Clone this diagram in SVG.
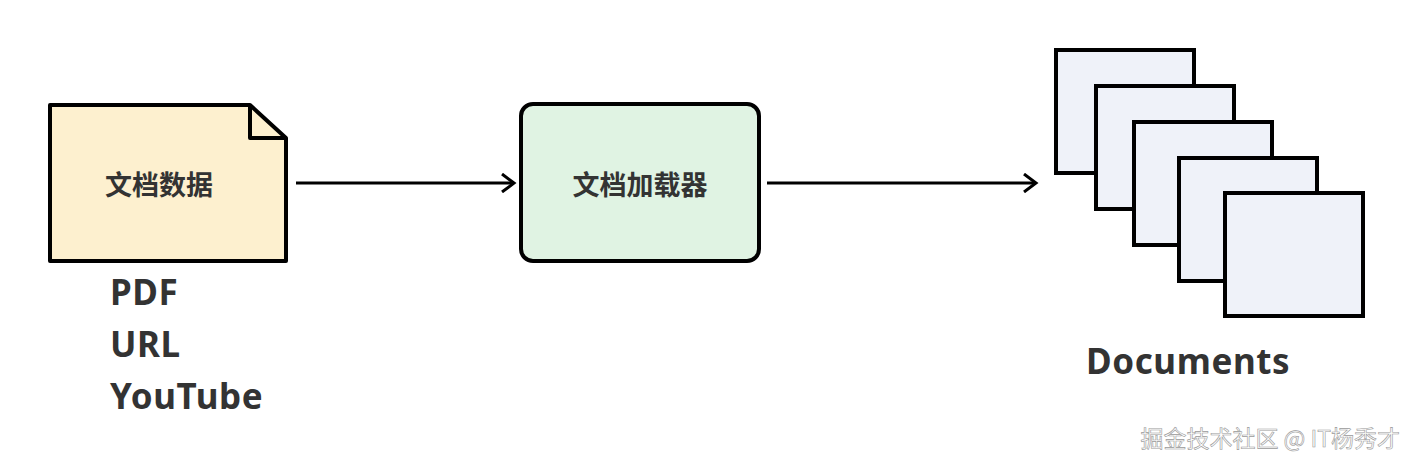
<svg xmlns="http://www.w3.org/2000/svg" width="1414" height="468" viewBox="0 0 1414 468">
<style>
.t{font-family:"Noto Sans CJK SC","Noto Sans",sans-serif;font-weight:bold;fill:#333}
.e{font-family:"Noto Sans",sans-serif;font-weight:bold;fill:#333;font-size:35px;letter-spacing:0.6px}
.d{fill:#eff2f9;stroke:#000;stroke-width:4}
.c{stroke:#000;stroke-width:3;fill:none}
</style>
<defs><marker id="a" markerWidth="20" markerHeight="20" refX="17" refY="10" orient="auto" markerUnits="userSpaceOnUse"><path d="M5,1 L17,10 L5,19" fill="none" stroke="#000" stroke-width="3"/></marker></defs>
<rect width="1414" height="468" fill="#fff"/>
<g id="source">
<path d="M50,105 H250 L286,138 V261 H50 Z" fill="#fdf0cf" stroke="#000" stroke-width="4" stroke-linejoin="round"/>
<path d="M250,105 V138 H286" fill="none" stroke="#000" stroke-width="4" stroke-linejoin="round"/>
<text class="t" x="159" y="195" font-size="27" text-anchor="middle">文档数据</text>
<text class="e" x="110" y="305">PDF</text>
<text class="e" x="110" y="357">URL</text>
<text class="e" x="110" y="409">YouTube</text>
</g>
<g id="loader">
<rect x="521" y="104" width="238" height="157" rx="12" fill="#e0f3e3" stroke="#000" stroke-width="4"/>
<text class="t" x="640" y="195" font-size="27" text-anchor="middle">文档加载器</text>
</g>
<g id="documents">
<rect class="d" x="1056" y="50" width="138" height="123"/>
<rect class="d" x="1096" y="86" width="138" height="123"/>
<rect class="d" x="1134" y="122" width="138" height="123"/>
<rect class="d" x="1179" y="158" width="138" height="123"/>
<rect class="d" x="1225" y="193" width="138" height="123"/>
<text class="e" x="1086" y="374">Documents</text>
</g>
<g id="connectors">
<line class="c" x1="296" y1="183" x2="514" y2="183" marker-end="url(#a)"/>
<line class="c" x1="767" y1="183" x2="1036" y2="183" marker-end="url(#a)"/>
</g>
<text x="1400" y="447" font-size="23" text-anchor="end" fill="#fff" stroke="#999" stroke-width="0.6" style="font-family:'Noto Sans CJK SC',sans-serif">掘金技术社区 @ IT杨秀才</text>
</svg>
